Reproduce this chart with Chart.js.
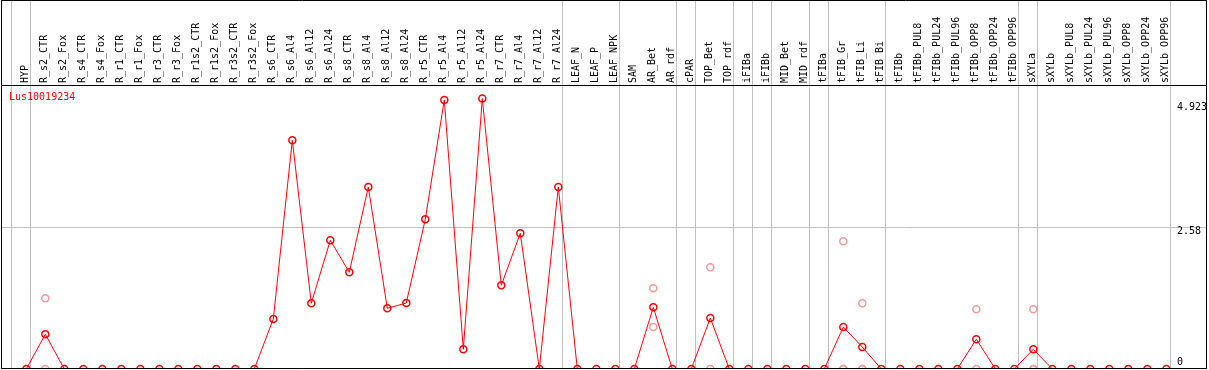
<!DOCTYPE html>
<html>
<head>
<meta charset="utf-8">
<script src="https://cdn.jsdelivr.net/npm/chart.js@4"></script>
<style>
  html, body { margin: 0; padding: 0; background: #fff; }
  #wrap { width: 1209px; height: 370px; }
</style>
</head>
<body>
<div id="wrap"><canvas id="chartCanvas" width="1209" height="370"></canvas></div>
<script>
// sample names along the top
const categories = [
  'HYP',
  'R_s2_CTR', 'R_s2_Fox', 'R_s4_CTR', 'R_s4_Fox', 'R_r1_CTR', 'R_r1_Fox',
  'R_r3_CTR', 'R_r3_Fox', 'R_r1s2_CTR', 'R_r1s2_Fox', 'R_r3s2_CTR', 'R_r3s2_Fox',
  'R_s6_CTR', 'R_s6_Al4', 'R_s6_Al12', 'R_s6_Al24',
  'R_s8_CTR', 'R_s8_Al4', 'R_s8_Al12', 'R_s8_Al24',
  'R_r5_CTR', 'R_r5_Al4', 'R_r5_Al12', 'R_r5_Al24',
  'R_r7_CTR', 'R_r7_Al4', 'R_r7_Al12', 'R_r7_Al24',
  'LEAF_N', 'LEAF_P', 'LEAF_NPK', 'SAM', 'AR_Bet', 'AR_rdf', 'cPAR',
  'TOP_Bet', 'TOP_rdf', 'iFIBa', 'iFIBb', 'MID_Bet', 'MID_rdf', 'tFIBa',
  'tFIB_Gr', 'tFIB_Li', 'tFIB_Bi', 'tFIBb',
  'tFIBb_PUL8', 'tFIBb_PUL24', 'tFIBb_PUL96', 'tFIBb_OPP8', 'tFIBb_OPP24', 'tFIBb_OPP96',
  'sXYLa', 'sXYLb',
  'sXYLb_PUL8', 'sXYLb_PUL24', 'sXYLb_PUL96', 'sXYLb_OPP8', 'sXYLb_OPP24', 'sXYLb_OPP96'
];

// mean expression per sample
const meanValues = [
  0,
  0.632, 0, 0, 0, 0, 0,
  0, 0, 0, 0, 0, 0,
  0.91, 4.163, 1.196, 2.343,
  1.76, 3.313, 1.105, 1.201,
  2.725, 4.896, 0.359, 4.923,
  1.523, 2.47, 0, 3.313,
  0, 0, 0, 0, 1.123, 0, 0,
  0.928, 0, 0, 0, 0, 0, 0,
  0.764, 0.40, 0, 0,
  0, 0, 0, 0.541, 0, 0,
  0.359, 0,
  0, 0, 0, 0, 0, 0
];

// individual replicates (sample index, value)
const replicateIndex = [1, 1, 33, 33, 36, 36, 43, 43, 43, 44, 44, 44, 50, 50, 53, 53, 53];
const replicateValues = [1.287, 0, 1.469, 0.764, 1.851, 0, 2.324, 0, 0, 1.196, 0, 0, 1.087, 0, 1.087, 0, 0];

// group separators sit just after these sample indices
const groupEnds = [-1, 0, 28, 31, 34, 35, 37, 38, 39, 41, 42, 45, 52, 53, 60];

const geneName = 'Lus10019234';
const yTickValues = [0, 2.58, 4.923];
const yMax = 5.169;

const MONO = '"DejaVu Sans Mono", monospace';

// draws the frame, group separators, gene name and the right-hand value labels
const framePlugin = {
  id: 'frame',
  beforeDatasetsDraw(chart) {
    const { ctx, chartArea, scales } = chart;
    ctx.save();
    ctx.strokeStyle = '#c0c0c0';
    ctx.lineWidth = 1;
    groupEnds.forEach((k) => {
      const x = Math.round(scales.x.getPixelForValue(k + 0.2)) + 0.5;
      ctx.beginPath();
      ctx.moveTo(x, 0);
      ctx.lineTo(x, chartArea.bottom);
      ctx.stroke();
    });
    ctx.restore();
  },
  afterDraw(chart) {
    const { ctx, chartArea, scales } = chart;
    ctx.save();
    ctx.strokeStyle = '#000';
    ctx.lineWidth = 1;
    ctx.beginPath();
    ctx.moveTo(chartArea.left + 0.5, 0.5);
    ctx.lineTo(chartArea.right - 0.5, 0.5);
    ctx.moveTo(chartArea.left + 0.5, chartArea.top + 0.5);
    ctx.lineTo(chartArea.right - 0.5, chartArea.top + 0.5);
    ctx.moveTo(chartArea.left + 0.5, chartArea.bottom - 0.5);
    ctx.lineTo(chartArea.right - 0.5, chartArea.bottom - 0.5);
    ctx.moveTo(chartArea.left + 0.5, 0);
    ctx.lineTo(chartArea.left + 0.5, chartArea.bottom);
    ctx.moveTo(chartArea.right - 0.5, 0);
    ctx.lineTo(chartArea.right - 0.5, chartArea.bottom);
    ctx.stroke();

    ctx.font = '10px ' + MONO;
    ctx.textBaseline = 'middle';
    ctx.textAlign = 'left';
    ctx.fillStyle = '#ff0000';
    ctx.fillText(geneName, chartArea.left + 8, chartArea.top + 12);

    // value labels, nudged so they stay inside the box
    const nudge = [-7, 4, 8.5];
    ctx.fillStyle = '#000';
    yTickValues.forEach((v, i) => {
      const y = scales.y.getPixelForValue(v) + nudge[i];
      ctx.fillText(String(v), chartArea.right - 30, y);
    });
    ctx.restore();
  }
};

const meanPoints = meanValues.map((v, i) => ({ x: i, y: v }));
const repPoints = replicateValues.map((v, i) => ({ x: replicateIndex[i], y: v }));

new Chart(document.getElementById('chartCanvas').getContext('2d'), {
  type: 'line',
  data: {
    datasets: [
      {
        data: meanPoints,
        borderColor: '#ff0000',
        borderWidth: 1,
        pointRadius: 3.5,
        pointBorderWidth: 1.5,
        pointBorderColor: '#ff0000',
        pointBackgroundColor: 'rgba(0,0,0,0)',
        tension: 0,
        order: 1
      },
      {
        type: 'scatter',
        data: repPoints,
        showLine: false,
        pointRadius: 3.5,
        pointBorderWidth: 1.5,
        pointBorderColor: '#f09a9a',
        pointBackgroundColor: 'rgba(0,0,0,0)',
        order: 2
      }
    ]
  },
  options: {
    responsive: false,
    animation: false,
    layout: { autoPadding: false, padding: { left: 1, right: 2, top: 0, bottom: 1 } },
    plugins: {
      legend: { display: false },
      tooltip: { enabled: false }
    },
    scales: {
      x: {
        type: 'linear',
        position: 'top',
        min: -1.332,
        max: 62.142,
        afterBuildTicks: (scale) => {
          scale.ticks = categories.map((_, i) => ({ value: i }));
        },
        afterFit: (scale) => {
          scale.height = 85;
          scale.paddingLeft = 0;
          scale.paddingRight = 0;
        },
        grid: { display: false, drawTicks: false },
        border: { display: false },
        ticks: {
          autoSkip: false,
          minRotation: 90,
          maxRotation: 90,
          padding: 2,
          labelOffset: 11,
          color: '#000',
          font: { family: MONO, size: 10 },
          callback: (value, index) => categories[index]
        }
      },
      y: {
        type: 'linear',
        min: 0,
        max: yMax,
        position: 'right',
        afterBuildTicks: (scale) => {
          scale.ticks = [{ value: yTickValues[1] }];
        },
        grid: { color: '#c0c0c0', drawTicks: false },
        border: { display: false },
        ticks: { display: false }
      }
    }
  },
  plugins: [framePlugin]
});
</script>
</body>
</html>
